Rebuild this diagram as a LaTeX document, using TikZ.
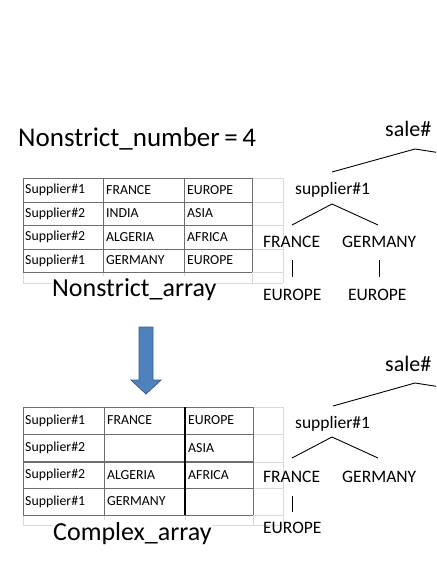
\documentclass[tikz,border=0pt]{standalone}
\usepackage{fontspec}
\setmainfont{Carlito}
\definecolor{arrowfill}{HTML}{4F81BD}
\definecolor{arrowline}{HTML}{385D8A}
\definecolor{gridline}{HTML}{6E6E6E}
\definecolor{faintline}{HTML}{D9D9D9}
\begin{document}
\begin{tikzpicture}[x=1pt,y=-1pt,
  lbl/.style={inner sep=0pt,anchor=base west},
  big/.style={lbl,font=\fontsize{27}{30}\selectfont},
  mid/.style={lbl,font=\fontsize{26}{29}\selectfont},
  tree/.style={lbl,font=\fontsize{17.5}{20}\selectfont},
  root/.style={lbl,font=\fontsize{22}{25}\selectfont},
  cell/.style={inner sep=0pt,anchor=west,font=\fontsize{13.8}{15}\selectfont},
  grid/.style={draw=gridline,line width=0.8pt},
  faint/.style={draw=faintline,line width=0.7pt},
  edge/.style={draw=black,line width=0.9pt}]
\useasboundingbox (0,0) rectangle (436,564);
\clip (0,0) rectangle (436,564);
\fill[white] (0,0) rectangle (436,564);

% ---------- title ----------
\node[big] (title) at (18,147) {Nonstrict\_number\,=\,4};

% ---------- top table ----------
\foreach \y in {178,202,225,249,272} \draw[faint] (252,\y) -- (283,\y);
\draw[faint] (283,178) -- (283,283);
\foreach \x in {23,103,184,252} \draw[faint] (\x,272) -- (\x,283);
\draw[faint] (23,283) -- (283,283);
\foreach \y in {178,202,225,249,272} \draw[grid] (23,\y) -- (252,\y);
\foreach \x in {23,103,184,252} \draw[grid] (\x,178) -- (\x,272);

\node[cell] (t11) at (25,190) {Supplier\#1};
\node[cell] (t12) at (106,190) {FRANCE};
\node[cell] (t13) at (187,190) {EUROPE};
\node[cell] (t21) at (25,213.5) {Supplier\#2};
\node[cell] (t22) at (106,213.5) {INDIA};
\node[cell] (t23) at (187,213.5) {ASIA};
\node[cell] (t31) at (25,237) {Supplier\#2};
\node[cell] (t32) at (106,237) {ALGERIA};
\node[cell] (t33) at (187,237) {AFRICA};
\node[cell] (t41) at (25,260.5) {Supplier\#1};
\node[cell] (t42) at (106,260.5) {GERMANY};
\node[cell] (t43) at (187,260.5) {EUROPE};

\node[mid,fill=white,inner ysep=2pt] (nsa) at (52,296) {Nonstrict\_array};

% ---------- top tree ----------
\node[root] (sale1) at (385,137) {sale\#};
\node[tree] (sup1) at (295,194) {supplier\#1};
\node[tree] (fr1) at (263,247) {FRANCE};
\node[tree] (ge1) at (342,247) {GERMANY};
\node[tree] (eu1a) at (263,300) {EUROPE};
\node[tree] (eu1b) at (348,300) {EUROPE};
\coordinate (s1l) at (332,172);
\coordinate (s1t) at (415,149);
\coordinate (s1r) at (460,156);
\draw[edge] (s1l) -- (s1t) -- (s1r);
\coordinate (p1l) at (292,225);
\coordinate (p1t) at (332,204);
\coordinate (p1r) at (378,225);
\draw[edge] (p1l) -- (p1t) -- (p1r);
\coordinate (f1a) at (292,260);
\coordinate (f1b) at (292,277);
\draw[edge] (f1a) -- (f1b);
\coordinate (g1a) at (379,260);
\coordinate (g1b) at (379,277);
\draw[edge] (g1a) -- (g1b);

% ---------- arrow ----------
\draw[draw=arrowline,fill=arrowfill,line width=0.8pt,line join=miter]
  (139,327) -- (153,327) -- (153,380) -- (161,380) -- (146,394)
  -- (131,380) -- (139,380) -- cycle;
\coordinate (arr) at (146,394);

% ---------- bottom table ----------
\foreach \y in {407,434,462,488,515} \draw[faint] (253,\y) -- (283,\y);
\draw[faint] (283,407) -- (283,525);
\foreach \x in {23,104,185,253} \draw[faint] (\x,515) -- (\x,525);
\draw[faint] (23,525) -- (283,525);
\foreach \y in {407,434,488,515} \draw[grid] (23,\y) -- (253,\y);
\draw[draw=gridline,line width=1.4pt] (23,462) -- (253,462);
\foreach \x in {23,104,253} \draw[grid] (\x,407) -- (\x,515);
\draw[draw=black,line width=1.1pt] (185,407) -- (185,515);

\node[cell] (b11) at (25,420.5) {Supplier\#1};
\node[cell] (b12) at (107,420.5) {FRANCE};
\node[cell] (b13) at (188,420.5) {EUROPE};
\node[cell] (b21) at (25,448) {Supplier\#2};
\node[cell] (b23) at (188,448) {ASIA};
\node[cell] (b31) at (25,475) {Supplier\#2};
\node[cell] (b32) at (107,475) {ALGERIA};
\node[cell] (b33) at (188,475) {AFRICA};
\node[cell] (b41) at (25,501.5) {Supplier\#1};
\node[cell] (b42) at (107,501.5) {GERMANY};

\node[mid,fill=white,inner ysep=2pt] (cxa) at (53,540) {Complex\_array};

% ---------- bottom tree ----------
\node[root] (sale2) at (385,371) {sale\#};
\node[tree] (sup2) at (295,428) {supplier\#1};
\node[tree] (fr2) at (263,482) {FRANCE};
\node[tree] (ge2) at (342,482) {GERMANY};
\node[tree] (eu2) at (263,533) {EUROPE};
\coordinate (s2l) at (333,406);
\coordinate (s2t) at (415,383);
\coordinate (s2r) at (460,390);
\draw[edge] (s2l) -- (s2t) -- (s2r);
\coordinate (p2l) at (292,458);
\coordinate (p2t) at (332,437);
\coordinate (p2r) at (378,458);
\draw[edge] (p2l) -- (p2t) -- (p2r);
\coordinate (f2a) at (292,496);
\coordinate (f2b) at (292,512);
\draw[edge] (f2a) -- (f2b);
\end{tikzpicture}
\end{document}
